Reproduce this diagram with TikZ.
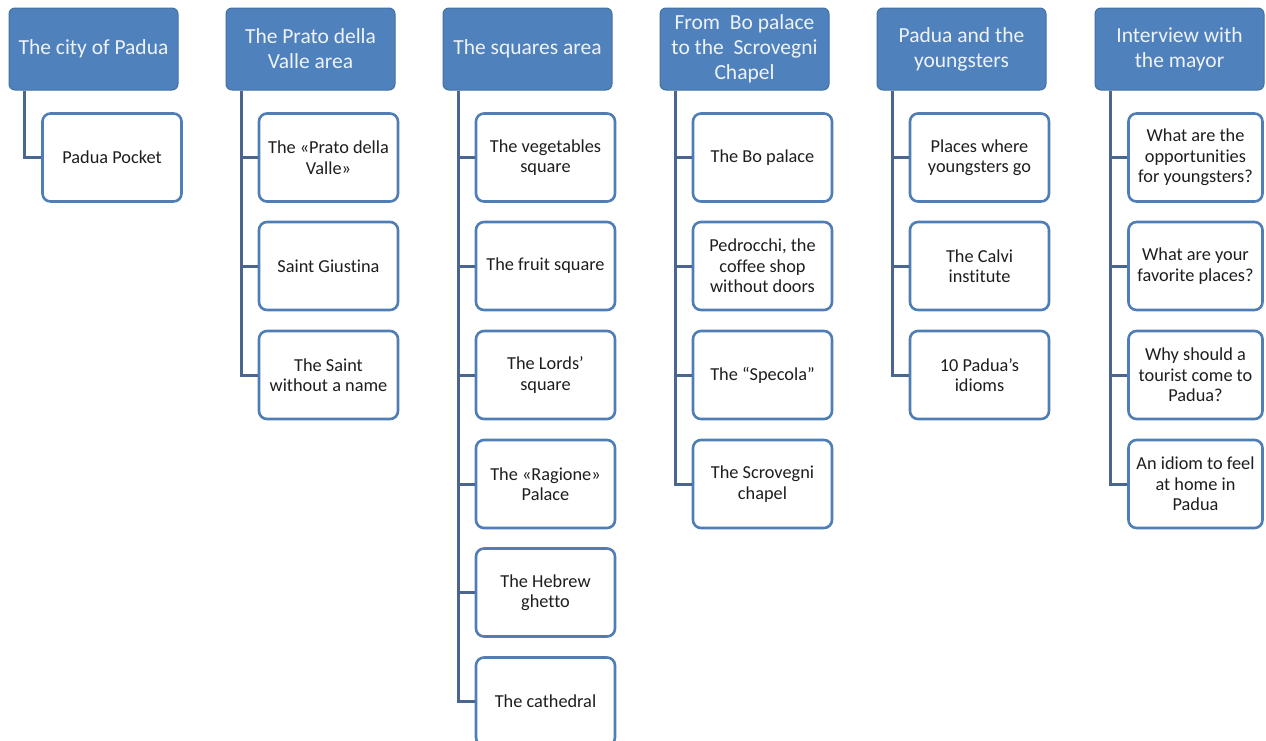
\documentclass[tikz,border=0pt]{standalone}
\usepackage{fontspec}
\setmainfont{Carlito}[Ligatures=NoCommon]
\definecolor{hdrfill}{HTML}{4F81BD}
\definecolor{hdrline}{HTML}{41709F}
\definecolor{boxline}{HTML}{4F7DB5}
\definecolor{conn}{HTML}{4A6690}
\definecolor{hdrtext}{HTML}{EEF3FA}
\definecolor{boxtext}{HTML}{1E1E1E}
\begin{document}
\begin{tikzpicture}[x=1pt,y=-1pt,
  hdr/.style={draw=hdrline, line width=1pt, fill=hdrfill, rounded corners=6pt,
    minimum width=169pt, minimum height=82pt, inner sep=0pt, align=center,
    text=hdrtext, font=\fontsize{21.5}{25}\selectfont},
  leaf/.style={draw=boxline, line width=2.6pt, fill=white, rounded corners=8pt,
    minimum width=139pt, minimum height=88pt, inner sep=0pt, align=center,
    text=boxtext, font=\fontsize{18.3}{20.5}\selectfont},
  leafn/.style={leaf, minimum width=134pt},
  link/.style={draw=conn, line width=3pt}]
\useasboundingbox (0,0) rectangle (1266,740);
\fill[white] (0,0) rectangle (1266,740);
% headers
\node[hdr] (h1) at (93.5,49) {The city of Padua};
\node[hdr] (h2) at (310.5,49) {The Prato della\\Valle area};
\node[hdr] (h3) at (527.5,49) {The squares area};
\node[hdr] (h4) at (744.5,49) {From\ \ Bo palace\\to the\ \ Scrovegni\\Chapel};
\node[hdr] (h5) at (961.5,49) {Padua and the\\youngsters};
\node[hdr] (h6) at (1179.5,49) {Interview with\\the mayor};
% trunk coordinates
\foreach \i in {1,...,6} {\coordinate (t\i) at ([xshift=16pt]h\i.south west);}
% column 1
\node[leaf] (c11) at (112,157.5) {Padua Pocket};
% column 2
\node[leaf] (c21) at (328.5,157.5) {The «Prato della\\Valle»};
\node[leaf] (c22) at (328.5,266) {Saint Giustina};
\node[leaf] (c23) at (328.5,375) {The Saint\\without a name};
% column 3
\node[leaf] (c31) at (545.5,157.5) {The vegetables\\square};
\node[leaf] (c32) at (545.5,266) {The fruit square};
\node[leaf] (c33) at (545.5,375) {The Lords’\\square};
\node[leaf] (c34) at (545.5,484) {The «Ragione»\\Palace};
\node[leaf] (c35) at (545.5,592.5) {The Hebrew\\ghetto};
\node[leaf] (c36) at (545.5,701.5) {The cathedral};
% column 4
\node[leaf] (c41) at (762.5,157.5) {The Bo palace};
\node[leaf] (c42) at (762.5,266) {Pedrocchi, the\\coffee shop\\without doors};
\node[leaf] (c43) at (762.5,375) {The “Specola”};
\node[leaf] (c44) at (762.5,484) {The Scrovegni\\chapel};
% column 5
\node[leaf] (c51) at (979.5,157.5) {Places where\\youngsters go};
\node[leaf] (c52) at (979.5,266) {The Calvi\\institute};
\node[leaf] (c53) at (979.5,375) {10 Padua’s\\idioms};
% column 6
\node[leafn] (c61) at (1195.5,157.5) {What are the\\opportunities\\for youngsters?};
\node[leafn] (c62) at (1195.5,266) {What are your\\favorite places?};
\node[leafn] (c63) at (1195.5,375) {Why should a\\tourist come to\\Padua?};
\node[leafn] (c64) at (1195.5,484) {An idiom to feel\\at home in\\Padua};
% connectors
\draw[link] (t1) |- (c11.west);
\foreach \j in {1,2,3} {\draw[link] (t2) |- (c2\j.west);}
\foreach \j in {1,...,6} {\draw[link] (t3) |- (c3\j.west);}
\foreach \j in {1,...,4} {\draw[link] (t4) |- (c4\j.west);}
\foreach \j in {1,2,3} {\draw[link] (t5) |- (c5\j.west);}
\foreach \j in {1,...,4} {\draw[link] (t6) |- (c6\j.west);}
\end{tikzpicture}
\end{document}
